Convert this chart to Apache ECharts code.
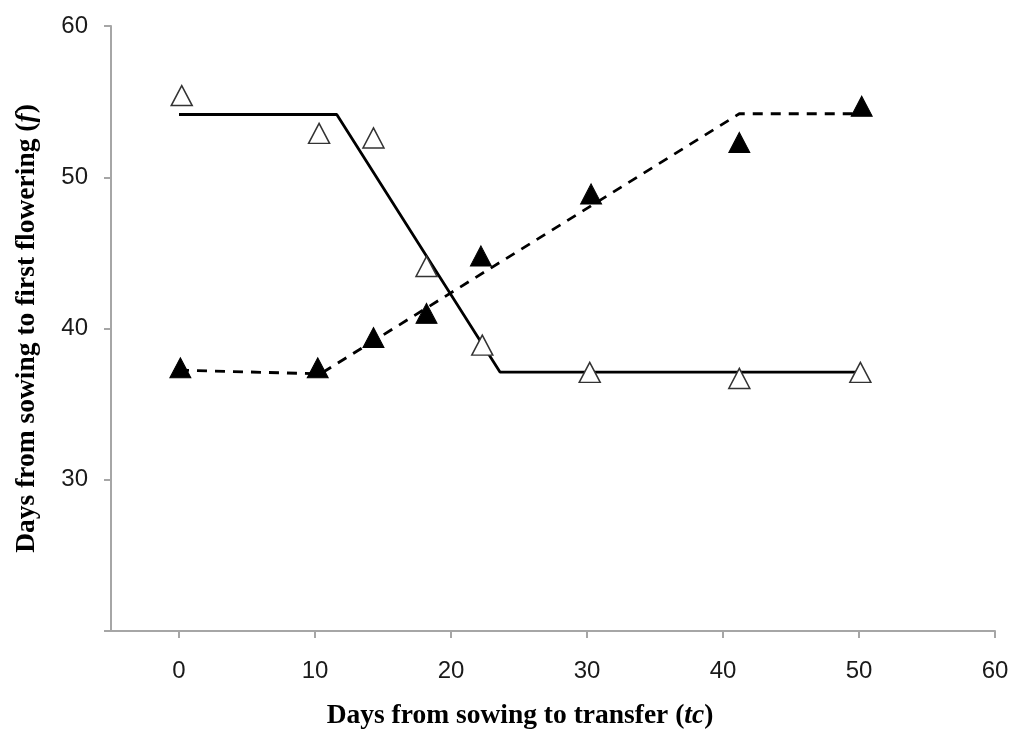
<!DOCTYPE html>
<html>
<head>
<meta charset="utf-8">
<script src="https://cdn.jsdelivr.net/npm/echarts@6/dist/echarts.min.js"></script>
<style>html,body{margin:0;padding:0;background:#fff;}#c{width:1013px;height:735px;}</style>
</head>
<body>
<div id="c"></div>
<script>
// Observed data: open triangles (series 1) and filled triangles (series 2)
const openX = [0.2, 10.3, 14.3, 18.2, 22.3, 30.2, 41.2, 50.1];
const openY = [55.4, 52.9, 52.6, 44.1, 38.9, 37.1, 36.7, 37.1];
const filledX = [0.1, 10.2, 14.3, 18.2, 22.2, 30.3, 41.2, 50.2];
const filledY = [37.4, 37.4, 39.4, 41.0, 44.8, 48.9, 52.3, 54.7];
// Fitted broken-line models
const solidFitX = [0, 11.6, 23.6, 50];
const solidFitY = [54.15, 54.15, 37.12, 37.12];
const dashFitX = [0, 10.4, 41.2, 50];
const dashFitY = [37.25, 37.0, 54.2, 54.2];
// Axis ticks
const xTicks = [0, 10, 20, 30, 40, 50, 60];
const yLabelsShown = [30, 40, 50, 60];

const zip = (a, b) => a.map((v, i) => [v, b[i]]);

const chart = echarts.init(document.getElementById('c'), null, {renderer: 'canvas'});
const axisGray = '#a6a6a6';
const tickFont = {fontFamily: 'Liberation Sans', fontSize: 24, color: '#1a1a1a'};
const titleFont = {fontFamily: 'Liberation Serif', fontSize: 27.5, fontWeight: 'bold', color: '#000'};

chart.setOption({
  animation: false,
  backgroundColor: '#fff',
  grid: {left: 111, right: 18, top: 26, bottom: 104, containLabel: false},
  xAxis: {
    type: 'value', min: -5, max: 60,
    splitLine: {show: false},
    axisLine: {onZero: false, lineStyle: {color: axisGray, width: 2}},
    axisTick: {length: 7, lineStyle: {color: axisGray, width: 2}, customValues: xTicks},
    axisLabel: Object.assign({margin: 28, customValues: xTicks}, tickFont),
    name: 'Days from sowing to transfer ({i|tc})',
    nameLocation: 'middle', nameGap: 71,
    nameTextStyle: Object.assign({padding: [0, 66, 0, 0], rich: {i: Object.assign({}, titleFont, {fontStyle: 'italic'})}}, titleFont)
  },
  yAxis: {
    type: 'value', min: 20, max: 60, interval: 10,
    splitLine: {show: false},
    axisLine: {show: true, onZero: false, lineStyle: {color: axisGray, width: 2}},
    axisTick: {show: true, length: 7, lineStyle: {color: axisGray, width: 2}},
    axisLabel: Object.assign({margin: 23, formatter: v => yLabelsShown.includes(v) ? String(v) : ''}, tickFont),
    name: 'Days from sowing to first flowering ({i|f})',
    nameLocation: 'middle', nameGap: 70, nameRotate: 90,
    nameTextStyle: Object.assign({rich: {i: Object.assign({}, titleFont, {fontStyle: 'italic'})}}, titleFont)
  },
  series: [
    {type: 'line', data: zip(solidFitX, solidFitY), symbol: 'none', silent: true,
     lineStyle: {color: '#000', width: 2.8, type: 'solid'}, z: 2},
    {type: 'line', data: zip(dashFitX, dashFitY), symbol: 'none', silent: true,
     lineStyle: {color: '#000', width: 2.8, type: [10, 8]}, z: 2},
    {type: 'scatter', data: zip(openX, openY), symbol: 'triangle', symbolSize: [21, 20],
     itemStyle: {color: '#fff', borderColor: '#333', borderWidth: 1.5, opacity: 1}, z: 3},
    {type: 'scatter', data: zip(filledX, filledY), symbol: 'triangle', symbolSize: [21, 20],
     itemStyle: {color: '#000', borderColor: '#000', borderWidth: 1, opacity: 1}, z: 3}
  ]
});
</script>
</body>
</html>
